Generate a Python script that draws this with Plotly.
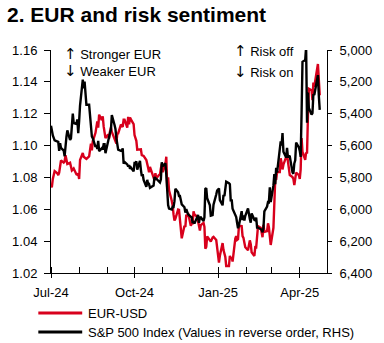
import plotly.graph_objects as go

# ---------------- data ----------------
dates = [
    "2024-07-01","2024-07-02","2024-07-03","2024-07-04","2024-07-05","2024-07-08","2024-07-09","2024-07-10","2024-07-11","2024-07-12",
    "2024-07-15","2024-07-16","2024-07-17","2024-07-18","2024-07-19","2024-07-22","2024-07-23","2024-07-24","2024-07-25","2024-07-26",
    "2024-07-29","2024-07-30","2024-07-31",
    "2024-08-01","2024-08-02","2024-08-05","2024-08-06","2024-08-07","2024-08-08","2024-08-09","2024-08-12","2024-08-13","2024-08-14",
    "2024-08-15","2024-08-16","2024-08-19","2024-08-20","2024-08-21","2024-08-22","2024-08-23","2024-08-26","2024-08-27","2024-08-28",
    "2024-08-29","2024-08-30",
    "2024-09-02","2024-09-03","2024-09-04","2024-09-05","2024-09-06","2024-09-09","2024-09-10","2024-09-11","2024-09-12","2024-09-13",
    "2024-09-16","2024-09-17","2024-09-18","2024-09-19","2024-09-20","2024-09-23","2024-09-24","2024-09-25","2024-09-26","2024-09-27",
    "2024-09-30",
    "2024-10-01","2024-10-02","2024-10-03","2024-10-04","2024-10-07","2024-10-08","2024-10-09","2024-10-10","2024-10-11","2024-10-14",
    "2024-10-15","2024-10-16","2024-10-17","2024-10-18","2024-10-21","2024-10-22","2024-10-23","2024-10-24","2024-10-25","2024-10-28",
    "2024-10-29","2024-10-30","2024-10-31",
    "2024-11-01","2024-11-04","2024-11-05","2024-11-06","2024-11-07","2024-11-08","2024-11-11","2024-11-12","2024-11-13","2024-11-14",
    "2024-11-15","2024-11-18","2024-11-19","2024-11-20","2024-11-21","2024-11-22","2024-11-25","2024-11-26","2024-11-27","2024-11-28",
    "2024-11-29",
    "2024-12-02","2024-12-03","2024-12-04","2024-12-05","2024-12-06","2024-12-09","2024-12-10","2024-12-11","2024-12-12","2024-12-13",
    "2024-12-16","2024-12-17","2024-12-18","2024-12-19","2024-12-20","2024-12-23","2024-12-24","2024-12-26","2024-12-27","2024-12-30",
    "2024-12-31",
    "2025-01-02","2025-01-03","2025-01-06","2025-01-07","2025-01-08","2025-01-09","2025-01-10","2025-01-13","2025-01-14","2025-01-15",
    "2025-01-16","2025-01-17","2025-01-20","2025-01-21","2025-01-22","2025-01-23","2025-01-24","2025-01-27","2025-01-28","2025-01-29",
    "2025-01-30","2025-01-31",
    "2025-02-03","2025-02-04","2025-02-05","2025-02-06","2025-02-07","2025-02-10","2025-02-11","2025-02-12","2025-02-13","2025-02-14",
    "2025-02-17","2025-02-18","2025-02-19","2025-02-20","2025-02-21","2025-02-24","2025-02-25","2025-02-26","2025-02-27","2025-02-28",
    "2025-03-03","2025-03-04","2025-03-05","2025-03-06","2025-03-07","2025-03-10","2025-03-11","2025-03-12","2025-03-13","2025-03-14",
    "2025-03-17","2025-03-18","2025-03-19","2025-03-20","2025-03-21","2025-03-24","2025-03-25","2025-03-26","2025-03-27","2025-03-28",
    "2025-03-31",
    "2025-04-01","2025-04-02","2025-04-03","2025-04-04","2025-04-07","2025-04-08","2025-04-09","2025-04-10","2025-04-11","2025-04-14",
    "2025-04-15","2025-04-16","2025-04-17","2025-04-21","2025-04-22","2025-04-23",
]

eurusd = [
    1.0740,1.0743,1.0791,1.0810,1.0840,1.0826,1.0814,1.0830,1.0865,1.0907,
    1.0893,1.0900,1.0940,1.0898,1.0884,1.0892,1.0852,1.0844,1.0849,1.0856,
    1.0819,1.0817,1.0825,
    1.0790,1.0910,1.0953,1.0930,1.0923,1.0920,1.0916,1.0932,1.0993,1.1012,
    1.0970,1.1027,1.1080,1.1130,1.1152,1.1113,1.1194,1.1160,1.1184,1.1120,
    1.1076,1.1047,
    1.1070,1.1043,1.1090,1.1113,1.1085,1.1040,1.1035,1.1012,1.1075,1.1076,
    1.1132,1.1120,1.1117,1.1163,1.1163,1.1112,1.1180,1.1133,1.1177,1.1164,
    1.1135,
    1.1066,1.1047,1.1030,1.0974,1.0974,1.0977,1.0940,1.0938,1.0935,1.0909,
    1.0891,1.0861,1.0832,1.0866,1.0816,1.0799,1.0782,1.0827,1.0795,1.0815,
    1.0818,1.0856,1.0885,
    1.0834,1.0882,1.0930,1.0730,1.0801,1.0719,1.0654,1.0623,1.0566,1.0530,
    1.0540,1.0598,1.0596,1.0543,1.0473,1.0418,1.0496,1.0490,1.0566,1.0554,
    1.0577,
    1.0496,1.0510,1.0511,1.0587,1.0567,1.0553,1.0528,1.0502,1.0467,1.0501,
    1.0515,1.0490,1.0353,1.0364,1.0430,1.0406,1.0397,1.0423,1.0427,1.0407,
    1.0354,
    1.0265,1.0308,1.0388,1.0344,1.0318,1.0300,1.0244,1.0244,1.0307,1.0289,
    1.0300,1.0272,1.0416,1.0432,1.0408,1.0413,1.0496,1.0494,1.0431,1.0421,
    1.0390,1.0362,
    1.0343,1.0381,1.0405,1.0381,1.0330,1.0307,1.0362,1.0361,1.0466,1.0494,
    1.0484,1.0447,1.0425,1.0503,1.0458,1.0463,1.0512,1.0487,1.0399,1.0376,
    1.0484,1.0622,1.0790,1.0784,1.0833,1.0834,1.0920,1.0891,1.0850,1.0880,
    1.0922,1.0943,1.0900,1.0852,1.0815,1.0802,1.0790,1.0752,1.0800,1.0830,
    1.0815,
    1.0791,1.0851,1.1047,1.0961,1.0910,1.0957,1.0950,1.1183,1.1357,1.1348,
    1.1285,1.1396,1.1369,1.1512,1.1420,1.1315,
]

spx = [
    5475,5509,5537,None,5567,5572,5577,5633,5585,5615,
    5631,5667,5589,5545,5505,5564,5555,5427,5399,5459,
    5464,5436,5522,
    5446,5347,5186,5240,5199,5319,5344,5344,5435,5455,
    5543,5554,5608,5597,5621,5571,5635,5616,5625,5592,
    5592,5648,
    None,5529,5520,5503,5408,5471,5496,5554,5596,5626,
    5633,5634,5618,5714,5703,5718,5732,5722,5745,5738,
    5762,
    5709,5709,5700,5751,5696,5751,5792,5780,5815,5859,
    5815,5843,5841,5865,5853,5851,5797,5809,5808,5823,
    5832,5813,5705,
    5729,5712,5782,5929,5973,5996,6001,5984,5985,5949,
    5871,5893,5917,5917,5949,5969,5987,6021,5999,None,
    6032,
    6047,6050,6087,6075,6090,6053,6035,6085,6052,6051,
    6074,6050,5872,5867,5931,5975,6040,6037,5971,5907,
    5882,
    5869,5942,5975,5909,5918,None,5827,5836,5843,5950,
    5937,5997,None,6049,6086,6119,6101,6012,6068,6039,
    6071,6041,
    5995,6038,6061,6084,6026,6066,6069,6052,6115,6115,
    None,6129,6144,6118,6013,5983,5955,5956,5862,5955,
    5850,5779,5843,5739,5770,5615,5573,5599,5522,5639,
    5675,5615,5675,5663,5668,5768,5777,5712,5693,5581,
    5612,
    5633,5671,5397,5074,5062,4982,5457,5268,5363,5406,
    5397,5276,5283,5158,5288,5376,
]

left_ticks = [1.02, 1.04, 1.06, 1.08, 1.10, 1.12, 1.14, 1.16]
right_ticks = [5000, 5200, 5400, 5600, 5800, 6000, 6200, 6400]

title_text = "2. EUR and risk sentiment"
eur_name = "EUR-USD"
spx_name = "S&P 500 Index (Values in reverse order, RHS)"

# ---------------- layout helpers ----------------
W, H = 384, 343
L, R, T, B = 50, 333, 50, 273
FONT = "Liberation Sans, Arial, sans-serif"
RED = "#D8001C"


def px_x(x):
    return (x - L) / (R - L)


def px_y(y):
    return (B - y) / (B - T)


fig = go.Figure()
fig.add_trace(go.Scatter(x=dates, y=spx, yaxis="y2", mode="lines", connectgaps=True,
                         line=dict(color="black", width=2.4), showlegend=False))
fig.add_trace(go.Scatter(x=dates, y=eurusd, yaxis="y", mode="lines", connectgaps=True,
                         line=dict(color=RED, width=2.4), showlegend=False))

axis_font = dict(family=FONT, size=13, color="black")

fig.update_layout(
    width=W, height=H,
    margin=dict(l=L, r=W - R, t=T, b=H - B, pad=0),
    paper_bgcolor="white", plot_bgcolor="white",
    showlegend=False,
    font=axis_font,
    title=dict(text="<b>" + title_text + "</b>", x=7 / W, xanchor="left", xref="container",
               y=1 - 15 / H, yanchor="middle", yref="container",
               font=dict(family=FONT, size=21, color="black")),
    xaxis=dict(
        type="date", range=["2024-07-01", "2025-05-01"],
        tick0="2024-07-01", dtick="M3", tickformat="%b-%y",
        ticks="outside", ticklen=4, tickcolor="black", tickwidth=1,
        ticklabelstandoff=3,
        minor=dict(dtick="M1", tick0="2024-07-01", ticks="inside", ticklen=6,
                   tickcolor="black", tickwidth=1, showgrid=False),
        showline=True, linecolor="black", linewidth=1,
        showgrid=False, zeroline=False, tickfont=axis_font,
    ),
    yaxis=dict(
        range=[1.02, 1.16], tickvals=left_ticks, tickformat=".2f",
        ticks="outside", ticklen=6, tickcolor="black",
        ticklabelstandoff=4,
        showline=True, linecolor="black", linewidth=1,
        showgrid=False, zeroline=False, tickfont=axis_font,
    ),
    yaxis2=dict(
        range=[6400, 5000], tickvals=right_ticks, tickformat=",d",
        overlaying="y", side="right",
        ticks="outside", ticklen=4, tickcolor="black",
        ticklabelstandoff=5,
        showline=True, linecolor="black", linewidth=1,
        showgrid=False, zeroline=False, tickfont=axis_font,
    ),
)

# annotations in the plot
ann_font = dict(family=FONT, size=13, color="black")
ARROW = '<span style="font-family:DejaVu Sans;font-size:15px">{}</span> {}'
notes = [
    ("\u2191", "Stronger EUR", 61, 54),
    ("\u2193", "Weaker EUR", 61, 71),
    ("\u2191", "Risk off", 236, 51),
    ("\u2193", "Risk on", 236, 72),
]
for arrow, txt, x, y in notes:
    fig.add_annotation(text=ARROW.format(arrow, txt), x=px_x(x), y=px_y(y),
                       xref="paper", yref="paper",
                       xanchor="left", yanchor="middle", showarrow=False, font=ann_font)

# custom legend
legend_items = [(eur_name, RED, 313), (spx_name, "black", 332)]
for name, col, y in legend_items:
    fig.add_shape(type="line", xref="paper", yref="paper",
                  x0=px_x(37), x1=px_x(82), y0=px_y(y), y1=px_y(y),
                  line=dict(color=col, width=3))
    fig.add_annotation(text=name, x=px_x(86), y=px_y(y), xref="paper", yref="paper",
                       xanchor="left", yanchor="middle", showarrow=False, font=ann_font)

fig.write_html("out.html")
